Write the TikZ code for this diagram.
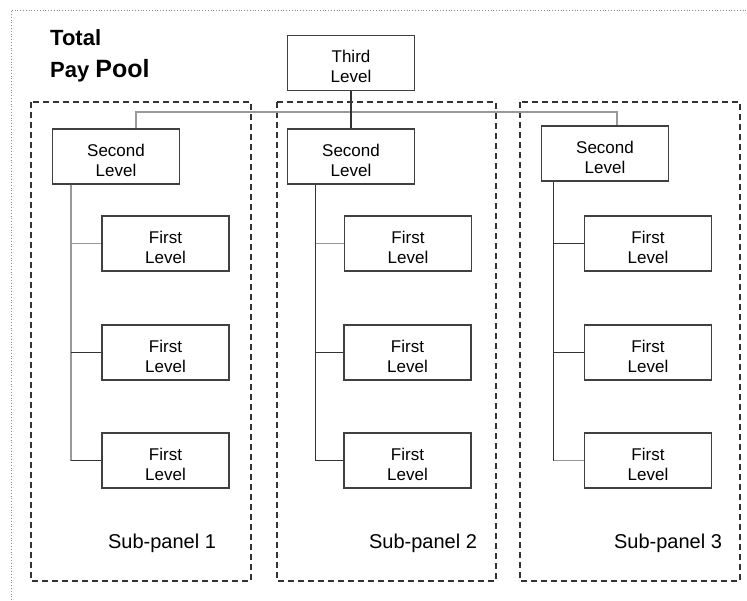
\documentclass[tikz,border=0pt]{standalone}
\usepackage{fontspec}
\setmainfont{Liberation Sans}
\usetikzlibrary{positioning}

\newcommand{\topgap}{\rule{0pt}{20pt}}

\tikzset{
	level/.style={draw=black!75, line width=1.4pt, minimum width=127pt, minimum height=55pt,
		inner sep=0pt, align=center, font=\fontsize{17}{20}\selectfont},
	panel/.style={draw=black!80, dash pattern=on 6pt off 4pt, line width=1.1pt},
	frame/.style={draw=black!45, dotted, line width=0.8pt},
	link/.style={draw=black!80, line width=1.2pt},
	faint/.style={draw=black!40, line width=1.4pt},
	heading/.style={font=\bfseries\fontsize{22}{26}\selectfont, inner sep=0pt},
	tag/.style={font=\fontsize{20}{24}\selectfont}
}

\begin{document}
\begin{tikzpicture}[x=1pt, y=-1pt]
	\useasboundingbox (0,0) rectangle (747,600);
	\draw[frame] (11,600) -- (11,10) -- (747,10);
	\node[heading, anchor=base west] (total) at (50,45) {Total};
	\node[heading, anchor=base west] (paypool) at (50,77) {Pay {\fontsize{25}{30}\selectfont Pool}};

	\draw[panel] (31,102) rectangle (251,581);
	\draw[panel] (277,102) rectangle (496,581);
	\draw[panel] (520,102) rectangle (740,581);

	\node[level] (third) at (351,63) {\topgap Third\\Level};
	\node[level] (second1) at (116,156.5) {\topgap Second\\Level};
	\node[level] (second2) at (351,156.5) {\topgap Second\\Level};
	\node[level] (second3) at (605,153.5) {\topgap Second\\Level};

	\node[level] (first11) at (165.5,243.5) {\topgap First\\Level};
	\node[level] (first12) at (165.5,352.5) {\topgap First\\Level};
	\node[level] (first13) at (165.5,460.5) {\topgap First\\Level};
	\node[level] (first21) at (408,243.5) {\topgap First\\Level};
	\node[level] (first22) at (407.5,352.5) {\topgap First\\Level};
	\node[level] (first23) at (407.5,460.5) {\topgap First\\Level};
	\node[level] (first31) at (648,243.5) {\topgap First\\Level};
	\node[level] (first32) at (648,352.5) {\topgap First\\Level};
	\node[level] (first33) at (648,460.5) {\topgap First\\Level};

	\node[tag] (sub1) at (162,543) {Sub-panel 1};
	\node[tag] (sub2) at (423,543) {Sub-panel 2};
	\node[tag] (sub3) at (668,543) {Sub-panel 3};

	\coordinate (bus) at (351,112);
	\draw[faint] ([xshift=20pt]second1.north) |- (bus) -| ([xshift=12pt]second3.north);
	\draw[link] (third.south) -- (second2.north);

	\draw[faint] ([xshift=19pt]second1.south west) coordinate (spine1) |- (first13.west);
	\draw[faint] (first11.west) -- (first11.west -| spine1);
	\draw[link] (first12.west) -- (first12.west -| spine1);
	\draw[link] (first13.west) -- (first13.west -| spine1);

	\draw[link] ([xshift=29pt]second2.south west) coordinate (spine2) |- (first23.west);
	\draw[faint] (first21.west) -- (first21.west -| spine2);
	\draw[link] (first22.west) -- (first22.west -| spine2);

	\draw[link] ([xshift=13pt]second3.south west) coordinate (spine3) |- (first33.west);
	\draw[link] (first31.west) -- (first31.west -| spine3);
	\draw[link] (first32.west) -- (first32.west -| spine3);
	\draw[faint] (first33.west) -- (first33.west -| spine3);
\end{tikzpicture}
\end{document}
